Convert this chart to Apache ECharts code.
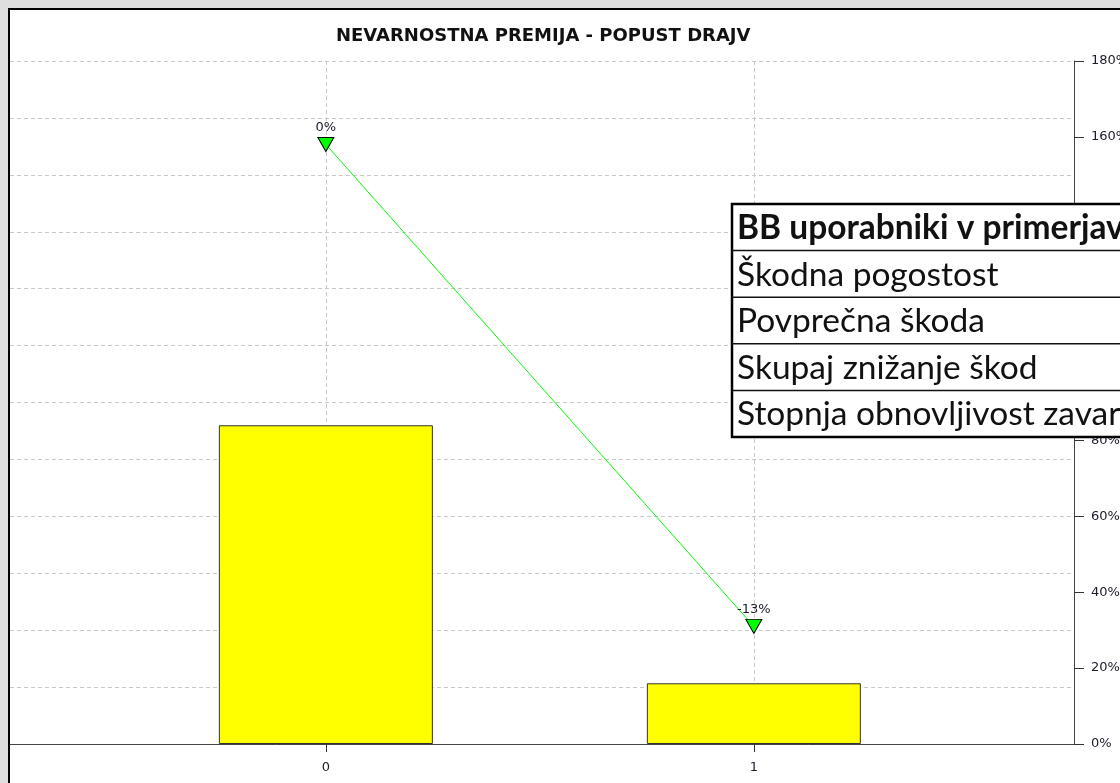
<!DOCTYPE html>
<html>
<head>
<meta charset="utf-8">
<title>Nevarnostna premija - popust drajv</title>
<script src="https://cdn.jsdelivr.net/npm/echarts@6/dist/echarts.min.js"></script>
<style>
  html, body { margin: 0; padding: 0; background: #dedede; }
  #chart { width: 1120px; height: 783px; }
</style>
</head>
<body>
<div id="chart"></div>
<script>
// values
const categories = [0, 1]
const premiumBars = [84, 16]          // % on the right axis
const discountLine = [158, 31]        // % on the right axis
const discountLabels = ['0%', '-13%']
const percentMin = 0
const percentMax = 180
const percentStep = 20
const gridSteps = 12                  // hidden left scale, only drives the dashed grid
const tableRows = [
  'BB uporabniki v primerjavi',
  'Škodna pogostost',
  'Povprečna škoda',
  'Skupaj znižanje škod',
  'Stopnja obnovljivost zavarovanj',
]

const axisFont = 'DejaVu Sans, Verdana, sans-serif'
const tableFont = 'Lato, "Open Sans", sans-serif'
const labelColor = '#1a1a2a'

const chart = echarts.init(document.getElementById('chart'), null, { renderer: 'canvas' })

function tableGraphic() {
  const x = 732
  const y = 204
  const rowH = 46.6
  const width = 520
  const children = [{
    type: 'rect',
    z: 100,
    shape: { x, y, width, height: rowH * tableRows.length },
    style: { fill: '#fff', stroke: '#000', lineWidth: 2.5 },
  }]
  tableRows.forEach((row, i) => {
    if (i > 0) {
      children.push({
        type: 'line',
        z: 101,
        shape: { x1: x, y1: y + rowH * i, x2: x + width, y2: y + rowH * i },
        style: { stroke: '#111', lineWidth: 1.5 },
      })
    }
    children.push({
      type: 'text',
      z: 102,
      x: x + 5,
      y: y + rowH * i + rowH / 2 + 1,
      style: {
        text: row,
        font: `${i === 0 ? 'bold ' : ''}33.5px ${tableFont}`,
        fill: '#111',
        textVerticalAlign: 'middle',
      },
    })
  })
  return { type: 'group', children }
}

chart.setOption({
  backgroundColor: '#dedede',
  animation: false,
  title: {
    text: 'NEVARNOSTNA PREMIJA - POPUST DRAJV',
    left: 331,
    top: 22,
    textStyle: { fontFamily: axisFont, fontWeight: 'bold', fontSize: 18, color: '#111' },
  },
  graphic: [
    {
      type: 'rect',
      z: -100,
      shape: { x: 9, y: 9, width: 1200, height: 900 },
      style: { fill: '#fff', stroke: '#000', lineWidth: 2 },
      silent: true,
    },
    tableGraphic(),
  ],
  grid: { left: 10, right: 46, top: 61, bottom: 39, containLabel: false, outerBoundsMode: 'none' },
  xAxis: {
    type: 'value',
    min: -0.738,
    max: 1.748,
    axisLine: { show: true, onZero: false, lineStyle: { color: '#444', width: 1 } },
    axisTick: { show: true, customValues: categories, length: 8, lineStyle: { color: '#333' } },
    axisLabel: {
      customValues: categories,
      margin: 17,
      color: labelColor,
      fontFamily: axisFont,
      fontSize: 13,
    },
    splitLine: { show: true, lineStyle: { color: '#c8c8c8', type: [4, 3], width: 1 } },
  },
  yAxis: [
    {
      type: 'value',
      position: 'right',
      min: percentMin,
      max: percentMax,
      interval: percentStep,
      axisLine: { show: true, onZero: false, lineStyle: { color: '#444', width: 1 } },
      axisTick: { show: true, length: 10, lineStyle: { color: '#333' } },
      axisLabel: {
        formatter: '{value}%',
        margin: 17,
        color: labelColor,
        fontFamily: axisFont,
        fontSize: 13,
      },
      splitLine: { show: false },
    },
    {
      type: 'value',
      min: 0,
      max: gridSteps,
      interval: 1,
      axisLine: { show: false },
      axisTick: { show: false },
      axisLabel: { show: false },
      splitLine: { show: true, lineStyle: { color: '#c8c8c8', type: [4, 3], width: 1 } },
    },
  ],
  series: [
    {
      name: 'Premija',
      type: 'bar',
      yAxisIndex: 0,
      barWidth: 214,
      data: categories.map((c, i) => [c, premiumBars[i]]),
      itemStyle: { color: '#ffff00', borderColor: '#333', borderWidth: 1 },
      z: 2,
    },
    {
      name: 'Popust',
      type: 'line',
      yAxisIndex: 0,
      data: categories.map((c, i) => [c, discountLine[i]]),
      symbol: 'triangle',
      symbolRotate: 180,
      symbolSize: [16, 14],
      showSymbol: true,
      lineStyle: { color: '#00ff00', width: 1 },
      itemStyle: { color: '#00ff00', borderColor: '#000', borderWidth: 1 },
      label: {
        show: true,
        position: 'top',
        distance: 3,
        formatter: (p) => discountLabels[p.dataIndex],
        color: labelColor,
        fontFamily: axisFont,
        fontSize: 13,
      },
      z: 3,
    },
  ],
})
</script>
</body>
</html>
